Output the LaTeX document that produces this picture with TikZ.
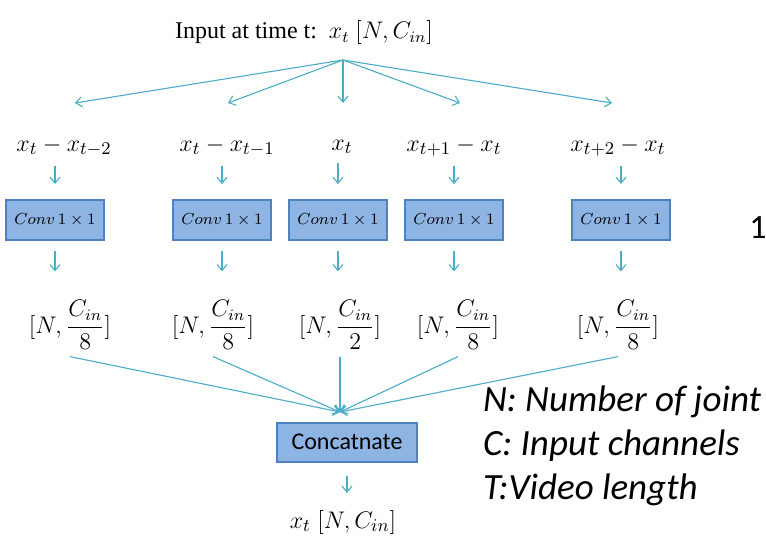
\documentclass[tikz,border=0pt]{standalone}
\usepackage{amsmath}
\usepackage{fontspec}
\setmainfont{Liberation Serif}
\newfontfamily\calib{Carlito}
\usetikzlibrary{arrows.meta,calc}
\definecolor{flowline}{RGB}{75,172,198}
\definecolor{boxfill}{RGB}{142,180,227}
\definecolor{boxedge}{RGB}{79,129,189}

\begin{document}
\begin{tikzpicture}[x=0.5pt,y=-0.5pt,
  arr/.style={-{Straight Barb[length=3pt,width=5pt]},flowline,line width=0.55pt},
  convbox/.style={draw=boxedge,fill=boxfill,line width=1pt,minimum width=49pt,
    minimum height=20pt,inner sep=0pt,font=\footnotesize},
  lbl/.style={font=\fontsize{13}{15}\selectfont}]
\useasboundingbox (0,0) rectangle (766,540);
% input and the five branches
\node[font=\large] (inp) at (304,33) {Input at time t:\ \ $x_t\ [N, C_{in}]$};
\coordinate (src) at (343,60);
\foreach \n/\x in {1/75,2/228,3/343,4/460,5/612}
  \coordinate (tip\n) at (\x,103);
\foreach \n in {1,...,5}
  \draw[arr] (src) -- (tip\n);
\node[lbl] (d1) at (64,147) {$x_t - x_{t-2}$};
\node[lbl] (d2) at (227,147) {$x_t - x_{t-1}$};
\node[lbl] (d3) at (342,147) {$x_t$};
\node[lbl] (d4) at (454,147) {$x_{t+1} - x_t$};
\node[lbl] (d5) at (618,147) {$x_{t+2} - x_t$};
% 1x1 convolutions
\node[convbox] (c1) at (55,220) {$Conv\,1\times 1$};
\node[convbox] (c2) at (222,220) {$Conv\,1\times 1$};
\node[convbox] (c3) at (338,220) {$Conv\,1\times 1$};
\node[convbox] (c4) at (454,220) {$Conv\,1\times 1$};
\node[convbox] (c5) at (621,220) {$Conv\,1\times 1$};
\node[font=\large] (f1) at (70,325) {$[N,\dfrac{C_{in}}{8}]$};
\node[font=\large] (f2) at (213,325) {$[N,\dfrac{C_{in}}{8}]$};
\node[font=\large] (f3) at (340,325) {$[N,\dfrac{C_{in}}{2}]$};
\node[font=\large] (f4) at (458,325) {$[N,\dfrac{C_{in}}{8}]$};
\node[font=\large] (f5) at (618,325) {$[N,\dfrac{C_{in}}{8}]$};
\foreach \n in {1,...,5}{
  \draw[arr,shorten <=1pt,shorten >=7.5pt] (d\n.south -| c\n.north) -- (c\n.north);
  \draw[arr,shorten <=5pt,shorten >=11pt] (c\n.south) -- (f\n.north -| c\n.south);
}
% concatenation
\node[convbox,minimum width=70pt,minimum height=19.5pt,font=\calib\fontsize{12}{14}\selectfont] (cat) at (347,442) {Concatnate};
\coordinate (meet) at (340,412);
\foreach \n in {1,...,5}
  \draw[arr] (f\n.south) -- (meet);
\node[lbl] (out) at (343,522) {$x_t\ [N, C_{in}]$};
\draw[arr,shorten <=6.5pt,shorten >=5pt] (cat.south) -- (out.north -| cat.south);
% legend
\node[font=\calib\itshape\fontsize{18.5}{22}\selectfont,align=left,anchor=west] (leg) at (476,446)
  {N: Number of joint\\C: Input channels\\T:Video length};
\node[font=\calib\fontsize{17}{19}\selectfont] (pg) at (758,228) {1};
\end{tikzpicture}
\end{document}
